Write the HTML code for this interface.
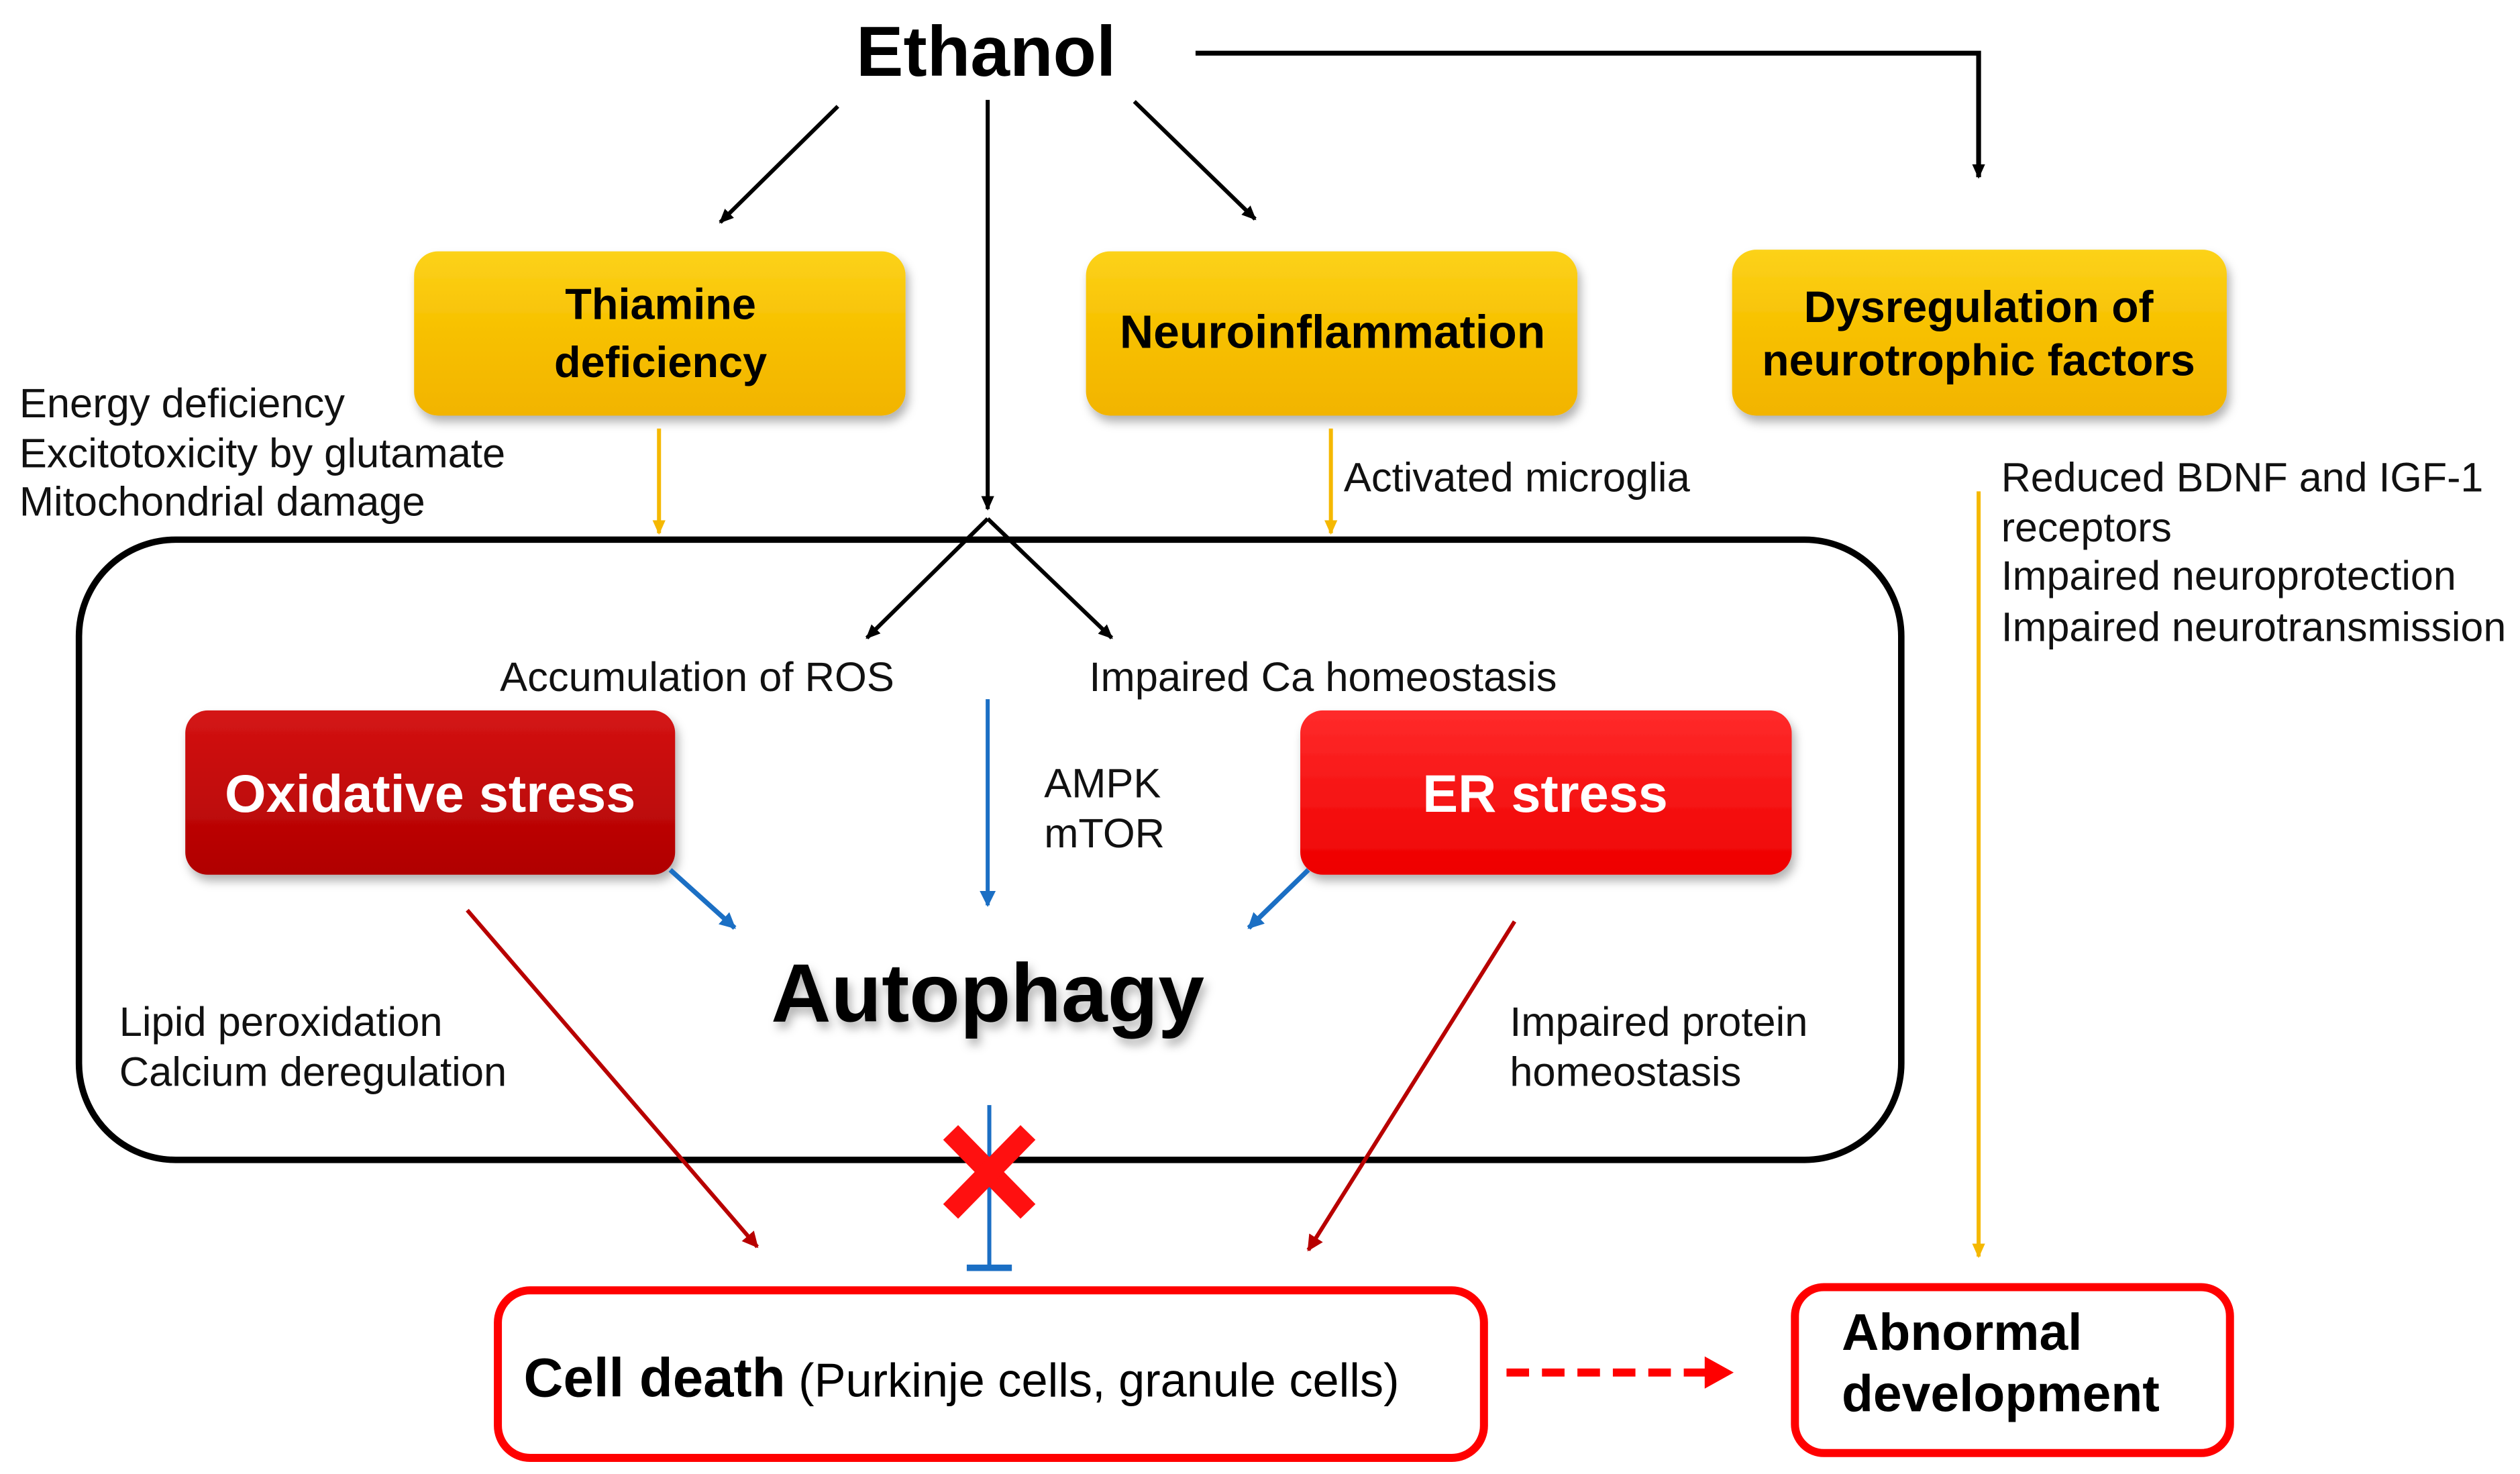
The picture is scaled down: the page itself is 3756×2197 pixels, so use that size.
<!DOCTYPE html>
<html><head><meta charset="utf-8"><style>
html,body{margin:0;padding:0;background:#fff}
svg{display:block}
text{font-family:"Liberation Sans",sans-serif}
</style></head><body>
<svg width="3756" height="2197" viewBox="0 0 1564 915" preserveAspectRatio="none" xmlns="http://www.w3.org/2000/svg">
<defs>
<linearGradient id="yg" x1="0" y1="0" x2="0" y2="1"><stop offset="0" stop-color="#fcd21a"/><stop offset="0.5" stop-color="#f7c000"/><stop offset="1" stop-color="#f2b400"/></linearGradient>
<linearGradient id="dr" x1="0" y1="0" x2="0" y2="1"><stop offset="0" stop-color="#d41414"/><stop offset="1" stop-color="#b00000"/></linearGradient>
<linearGradient id="br" x1="0" y1="0" x2="0" y2="1"><stop offset="0" stop-color="#ff2b2b"/><stop offset="1" stop-color="#ee0000"/></linearGradient>
<marker id="ak" markerWidth="10" markerHeight="10" refX="8" refY="5" orient="auto" markerUnits="userSpaceOnUse"><path d="M0,1 L9,5 L0,9 Z" fill="#000"/></marker>
<marker id="ay" markerWidth="10" markerHeight="12" refX="8" refY="5" orient="auto" markerUnits="userSpaceOnUse"><path d="M0,1 L9,5 L0,9 Z" fill="#f5b800"/></marker>
<marker id="ab" markerWidth="12" markerHeight="12" refX="9" refY="6" orient="auto" markerUnits="userSpaceOnUse"><path d="M0,1 L10,6 L0,11 Z" fill="#1b6fc4"/></marker>
<marker id="ar" markerWidth="12" markerHeight="12" refX="9" refY="6" orient="auto" markerUnits="userSpaceOnUse"><path d="M0,1 L10,6 L0,11 Z" fill="#b80000"/></marker>
<filter id="sh" x="-10%" y="-10%" width="120%" height="130%"><feDropShadow dx="2" dy="4" stdDeviation="3" flood-color="#000" flood-opacity="0.3"/></filter>
</defs>

<text x="612" y="47" font-size="44" font-weight="bold" text-anchor="middle">Ethanol</text>
<polyline points="742,33 1228,33 1228,110" fill="none" stroke="#000" stroke-width="3" marker-end="url(#ak)"/>
<line x1="520" y1="66" x2="447" y2="138" stroke="#000" stroke-width="2.5" marker-end="url(#ak)"/>
<line x1="613" y1="62" x2="613" y2="316" stroke="#000" stroke-width="2.5" marker-end="url(#ak)"/>
<line x1="704" y1="63" x2="779" y2="136" stroke="#000" stroke-width="2.5" marker-end="url(#ak)"/>

<g filter="url(#sh)">
<rect x="257" y="156" width="305" height="102" rx="15" fill="url(#yg)"/>
<rect x="674" y="156" width="305" height="102" rx="15" fill="url(#yg)"/>
<rect x="1075" y="155" width="307" height="103" rx="15" fill="url(#yg)"/>
</g>
<text x="410" y="198" font-size="27" font-weight="bold" text-anchor="middle">Thiamine</text>
<text x="410" y="234" font-size="27" font-weight="bold" text-anchor="middle">deficiency</text>
<text x="827" y="216" font-size="29" font-weight="bold" text-anchor="middle">Neuroinflammation</text>
<text x="1228" y="200" font-size="27.5" font-weight="bold" text-anchor="middle">Dysregulation of</text>
<text x="1228" y="233" font-size="27.5" font-weight="bold" text-anchor="middle">neurotrophic factors</text>

<g font-size="25.6" fill="#111">
<text x="12" y="259">Energy deficiency</text>
<text x="12" y="290">Excitotoxicity by glutamate</text>
<text x="12" y="320">Mitochondrial damage</text>
<text x="834" y="305">Activated microglia</text>
<text x="1242" y="305" font-size="25.4">Reduced BDNF and IGF-1</text>
<text x="1242" y="336" font-size="25.4">receptors</text>
<text x="1242" y="366" font-size="25.4">Impaired neuroprotection</text>
<text x="1242" y="398" font-size="25.4">Impaired neurotransmission</text>
<text x="555" y="429" text-anchor="end">Accumulation of ROS</text>
<text x="676" y="429">Impaired Ca homeostasis</text>
<text x="648" y="495">AMPK</text>
<text x="648" y="526">mTOR</text>
<text x="74" y="643">Lipid peroxidation</text>
<text x="74" y="674">Calcium deregulation</text>
<text x="937" y="643">Impaired protein</text>
<text x="937" y="674">homeostasis</text>
</g>

<line x1="409" y1="266" x2="409" y2="331" stroke="#f5b800" stroke-width="2.5" marker-end="url(#ay)"/>
<line x1="826" y1="266" x2="826" y2="331" stroke="#f5b800" stroke-width="2.5" marker-end="url(#ay)"/>
<line x1="1228" y1="305" x2="1228" y2="780" stroke="#f5b800" stroke-width="2.5" marker-end="url(#ay)"/>

<rect x="49" y="335" width="1131" height="385" rx="60" fill="none" stroke="#000" stroke-width="4"/>
<line x1="613" y1="322" x2="538" y2="396" stroke="#000" stroke-width="2.5" marker-end="url(#ak)"/>
<line x1="613" y1="322" x2="690" y2="396" stroke="#000" stroke-width="2.5" marker-end="url(#ak)"/>

<g filter="url(#sh)">
<rect x="115" y="441" width="304" height="102" rx="14" fill="url(#dr)"/>
<rect x="807" y="441" width="305" height="102" rx="14" fill="url(#br)"/>
</g>
<text x="267" y="504" font-size="33" font-weight="bold" fill="#fff" text-anchor="middle">Oxidative stress</text>
<text x="959" y="504" font-size="33" font-weight="bold" fill="#fff" text-anchor="middle">ER stress</text>

<line x1="613" y1="434" x2="613" y2="562" stroke="#1b6fc4" stroke-width="2.5" marker-end="url(#ab)"/>
<line x1="416" y1="540" x2="456" y2="576" stroke="#1b6fc4" stroke-width="3" marker-end="url(#ab)"/>
<line x1="812" y1="540" x2="775" y2="576" stroke="#1b6fc4" stroke-width="3" marker-end="url(#ab)"/>

<text x="613" y="634" font-size="51.5" font-weight="bold" text-anchor="middle" filter="url(#sh)">Autophagy</text>

<line x1="290" y1="565" x2="470" y2="774" stroke="#b80000" stroke-width="2.5" marker-end="url(#ar)"/>
<line x1="940" y1="572" x2="812" y2="776" stroke="#b80000" stroke-width="2.5" marker-end="url(#ar)"/>

<line x1="614" y1="686" x2="614" y2="787" stroke="#1b6fc4" stroke-width="2.5"/>
<line x1="600" y1="787" x2="628" y2="787" stroke="#1b6fc4" stroke-width="4"/>
<g stroke="#ff1010" stroke-width="13" stroke-linecap="butt">
<line x1="590" y1="703" x2="638" y2="752"/>
<line x1="638" y1="703" x2="590" y2="752"/>
</g>

<rect x="309" y="801" width="612" height="104" rx="20" fill="#fff" stroke="#ff0000" stroke-width="5"/>
<text x="325" y="867"><tspan font-size="34" font-weight="bold">Cell death</tspan><tspan font-size="29.3"> (Purkinje cells, granule cells)</tspan></text>
<line x1="935" y1="852" x2="1060" y2="852" stroke="#ff0000" stroke-width="5" stroke-dasharray="14,8"/>
<path d="M1058,842 L1076,852 L1058,862 Z" fill="#ff0000"/>
<rect x="1114" y="799" width="270" height="103" rx="18" fill="#fff" stroke="#ff0000" stroke-width="5"/>
<text x="1143" y="838" font-size="32" font-weight="bold">Abnormal</text>
<text x="1143" y="876" font-size="32" font-weight="bold">development</text>
</svg>
</body></html>
